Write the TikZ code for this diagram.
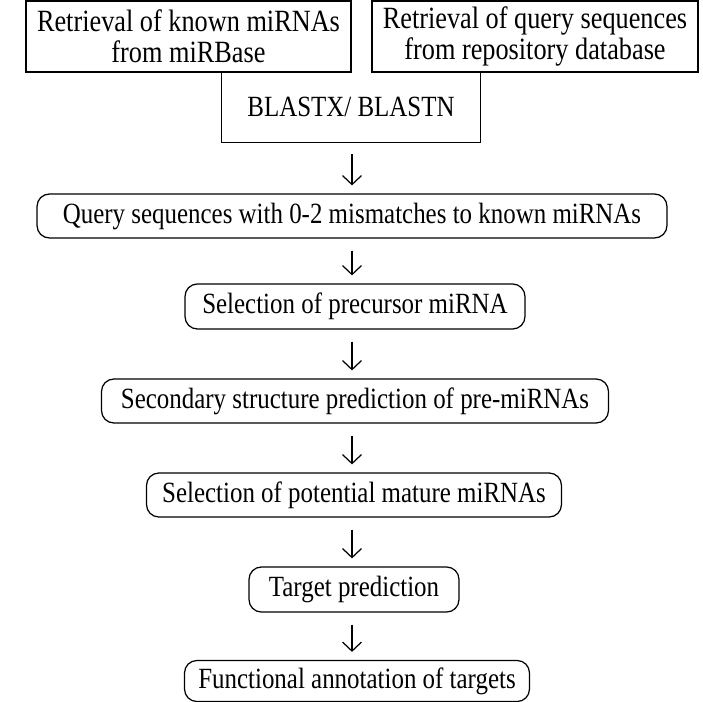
\documentclass[tikz,border=0pt]{standalone}
\usepackage{fontspec}
\setmainfont{Liberation Serif}[FakeStretch=0.85]
\usepackage{tikz}
\usetikzlibrary{arrows.meta, positioning}

\begin{document}
\begin{tikzpicture}[
    x=0.02cm, y=-0.02cm,
    font=\fontsize{16.7}{17}\selectfont,
    box/.style={rectangle, draw, line width=0.7pt, align=center, inner sep=2pt},
    topbox/.style={box, font=\fontsize{17.6}{17.6}\selectfont, minimum height=1.42cm},
    rbox/.style={box, rounded corners=7pt},
    openbox/.style={rectangle, align=center, inner sep=2pt},
    arrow/.style={-{Straight Barb[length=1.8mm, width=3.8mm]}, line width=0.7pt, shorten <=0.24cm, shorten >=0.16cm}
]
    \useasboundingbox (0,0) rectangle (703,702);

    \node[topbox, minimum width=6.5cm] (known) at (188.5,36.5) {Retrieval of known miRNAs\\from miRBase};
    \node[topbox, minimum width=6.52cm] (query) at (535,36.5) {Retrieval of query sequences\\from repository database};
    \node[openbox, minimum width=5.16cm, minimum height=1.4cm] (blast) at (351,107) {BLASTX/ BLASTN};

    \node[rbox, minimum width=12.6cm, minimum height=0.88cm] (mism) at (352,216) {Query sequences with 0-2 mismatches to known miRNAs};
    \node[rbox, minimum width=6.8cm, minimum height=0.9cm] (prec) at (355,306.5) {Selection of precursor miRNA};
    \node[rbox, minimum width=10.14cm, minimum height=0.88cm] (struct) at (355,401) {Secondary structure prediction of pre-miRNAs};
    \node[rbox, minimum width=8.3cm, minimum height=0.88cm] (mature) at (354,495) {Selection of potential mature miRNAs};
    \node[rbox, minimum width=4.2cm, minimum height=0.9cm] (target) at (354,589.5) {Target prediction};
    \node[rbox, minimum width=6.9cm, minimum height=0.82cm] (func) at (357,681) {Functional annotation of targets};

    % open box under the two retrieval boxes
    \draw[line width=0.7pt] (blast.north west) -- (blast.south west) -- (blast.south east) -- (blast.north east);

    \draw[arrow] (blast.south -| 352,0) -- (mism.north -| 352,0);
    \draw[arrow] (mism.south -| 352,0) -- (prec.north -| 352,0);
    \draw[arrow] (prec.south -| 352,0) -- (struct.north -| 352,0);
    \draw[arrow] (struct.south -| 352,0) -- (mature.north -| 352,0);
    \draw[arrow] (mature.south -| 352,0) -- (target.north -| 352,0);
    \draw[arrow] (target.south -| 352,0) -- (func.north -| 352,0);
\end{tikzpicture}
\end{document}
